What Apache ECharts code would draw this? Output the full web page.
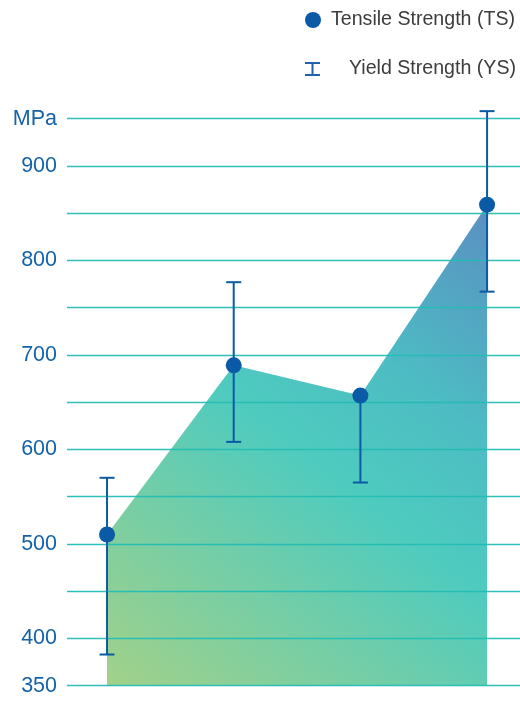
<!DOCTYPE html>
<html>
<head>
<meta charset="utf-8">
<script src="https://cdn.jsdelivr.net/npm/echarts@6/dist/echarts.min.js"></script>
<style>
html,body{margin:0;padding:0;background:#fff;}
#chart{width:520px;height:701px;}
</style>
</head>
<body>
<div id="chart"></div>
<script>
// ---- data ----
const samples = [0, 1, 2, 3];
const tensileStrength = [510, 689, 657, 859];
const yieldHigh = [570, 777, 657, 958];
const yieldLow = [383, 608, 565, 767];
const yLabeledTicks = [350, 400, 500, 600, 700, 800, 900];
const yUnitTick = 950;
const yUnitLabel = 'MPa';
const seriesNames = ['Tensile Strength (TS)', 'Yield Strength (YS)'];

const blue = '#0b5aa6';
const chart = echarts.init(document.getElementById('chart'), null, {renderer: 'canvas'});

const tsData = samples.map((s, i) => [s, tensileStrength[i]]);
const ysData = samples.map((s, i) => [s, yieldLow[i], yieldHigh[i]]);

const option = {
  animation: false,
  grid: {left: 67, right: 0, top: 118.7, bottom: 15.3, containLabel: false},
  legend: [
    {
      data: [{name: seriesNames[0], icon: 'circle'}],
      left: 300, top: 5,
      itemWidth: 16, itemHeight: 16,
      itemStyle: {color: blue, opacity: 1},
      textStyle: {fontFamily: 'Liberation Sans', fontSize: 19.6, color: '#3c3c3c', padding: [0, 0, 0, 5]}
    },
    {
      data: [{name: seriesNames[1], icon: 'path://M0,0 L15,0 L15,2 L8.5,2 L8.5,12 L15,12 L15,14 L0,14 L0,12 L6.5,12 L6.5,2 L0,2 Z'}],
      left: 300, top: 54,
      itemWidth: 15, itemHeight: 14,
      itemStyle: {color: '#1c63ab'},
      textStyle: {fontFamily: 'Liberation Sans', fontSize: 19.6, color: '#3c3c3c', padding: [0, 0, 0, 24]}
    }
  ],
  xAxis: {
    type: 'value', min: -0.316, max: 3.26,
    axisLine: {show: false}, axisTick: {show: false}, axisLabel: {show: false}, splitLine: {show: false}
  },
  yAxis: {
    type: 'value', min: 350, max: 950, interval: 50, z: 5,
    axisLine: {show: false}, axisTick: {show: false},
    axisLabel: {
      margin: 10,
      fontFamily: 'Liberation Sans', fontSize: 21.5, color: '#1462a9',
      formatter: function (v) {
        if (v === yUnitTick) return yUnitLabel;
        return yLabeledTicks.indexOf(v) >= 0 ? String(v) : '';
      }
    },
    splitLine: {show: true, lineStyle: {color: '#22bdb4', width: 1.4, opacity: 0.95}}
  },
  series: [
    {
      name: 'area',
      type: 'line',
      z: 1,
      data: tsData,
      symbol: 'none',
      lineStyle: {width: 0},
      areaStyle: {
        origin: 'start',
        opacity: 1,
        color: new echarts.graphic.LinearGradient(0, 1, 1, 0, [
          {offset: 0, color: '#a2d189'},
          {offset: 0.5, color: '#4ecbbf'},
          {offset: 0.7, color: '#4dbcc3'},
          {offset: 1, color: '#5a8fc2'}
        ])
      },
      silent: true,
      legendHoverLink: false
    },
    {
      name: seriesNames[1],
      type: 'custom',
      z: 8,
      data: ysData,
      itemStyle: {color: '#1c63ab'},
      renderItem: function (params, api) {
        const x = api.value(0);
        const lo = api.coord([x, api.value(1)]);
        const hi = api.coord([x, api.value(2)]);
        const hw = 7.5;
        const style = {stroke: blue, lineWidth: 2, fill: null};
        return {
          type: 'group',
          children: [
            {type: 'line', shape: {x1: hi[0], y1: hi[1], x2: lo[0], y2: lo[1]}, style: style},
            {type: 'line', shape: {x1: hi[0] - hw, y1: hi[1], x2: hi[0] + hw, y2: hi[1]}, style: style},
            {type: 'line', shape: {x1: lo[0] - hw, y1: lo[1], x2: lo[0] + hw, y2: lo[1]}, style: style}
          ]
        };
      }
    },
    {
      name: seriesNames[0],
      type: 'scatter',
      z: 10,
      data: tsData,
      symbol: 'circle',
      symbolSize: 16,
      itemStyle: {color: blue, opacity: 1}
    }
  ]
};
chart.setOption(option);
</script>
</body>
</html>
